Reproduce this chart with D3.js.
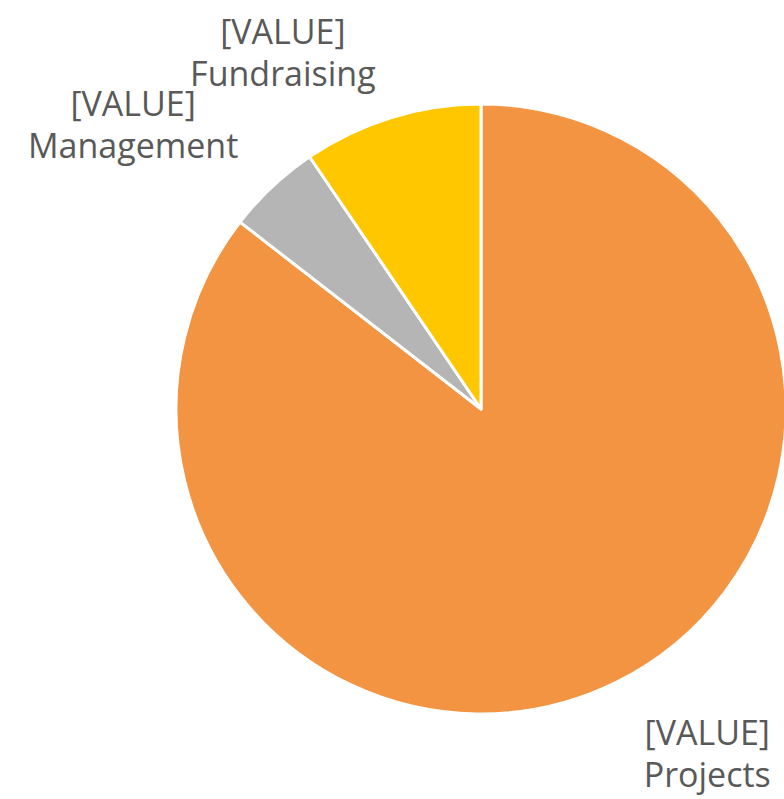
<!DOCTYPE html>
<html lang="en">
<head>
    <meta charset="UTF-8">
    <title>Expenses</title>
    <script src="https://d3js.org/d3.v7.min.js"></script>
    <style>
        body { margin: 0; background: #fff; }
        svg { display: block; }
        .label text { font-family: "Open Sans", sans-serif; font-size: 34px; fill: #595959; }
    </style>
</head>
<body>
    <div id="chart"></div>
    <script>
        // Data (share of total)
        const categories = ["Projects", "Management", "Fundraising"];
        const values = [85.5, 5, 9.5];
        const valueLabels = ["[VALUE]", "[VALUE]", "[VALUE]"];
        const colors = ["#F29441", "#B5B5B5", "#FFC700"];

        // Layout
        const width = 784, height = 799;
        const cx = 481, cy = 409, radius = 305;
        // label placement: angle shift (deg) and radius factor per slice
        const labelShift = [-7.2, -7.5, -11.9];
        const labelFactor = [1.351, 1.474, 1.34];

        const svg = d3.select("#chart").append("svg")
            .attr("width", width)
            .attr("height", height);

        const g = svg.append("g").attr("transform", `translate(${cx},${cy})`);

        const pie = d3.pie().sort(null).value(d => d);
        const arcs = pie(values);

        const arc = d3.arc().innerRadius(0).outerRadius(radius);

        g.selectAll("path")
            .data(arcs)
            .enter().append("path")
            .attr("d", arc)
            .attr("fill", (d, i) => colors[i])
            .attr("stroke", "#fff")
            .attr("stroke-width", 3)
            .attr("stroke-linejoin", "round");

        // Labels
        const labels = g.selectAll(".label")
            .data(arcs)
            .enter().append("g")
            .attr("class", "label")
            .attr("transform", (d, i) => {
                const a = (d.startAngle + d.endAngle) / 2 + labelShift[i] * Math.PI / 180;
                const r = radius * labelFactor[i];
                return `translate(${r * Math.sin(a)},${-r * Math.cos(a)})`;
            });

        labels.append("text")
            .attr("text-anchor", "middle")
            .attr("y", -8)
            .text((d, i) => valueLabels[i]);

        labels.append("text")
            .attr("text-anchor", "middle")
            .attr("y", 34)
            .text((d, i) => categories[i]);
    </script>
</body>
</html>
